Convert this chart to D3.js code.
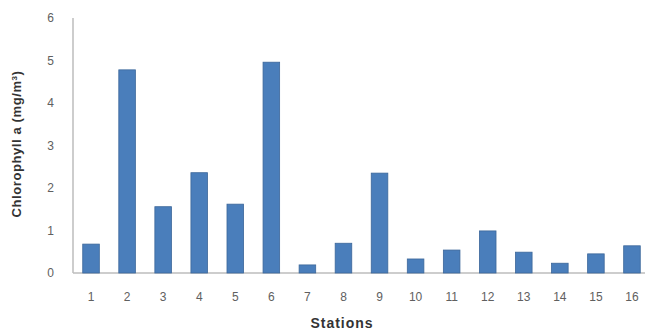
<!DOCTYPE html>
<html>
<head>
<meta charset="utf-8">
<script src="https://cdn.jsdelivr.net/npm/d3@7"></script>
<style>
  html, body { margin: 0; padding: 0; background: #fff; }
  svg { display: block; }
</style>
</head>
<body>
<svg id="chart" width="645" height="331"></svg>
<script>
const stations = ["1","2","3","4","5","6","7","8","9","10","11","12","13","14","15","16"];
const chlorophyll = [0.68, 4.78, 1.56, 2.36, 1.62, 4.96, 0.19, 0.70, 2.35, 0.33, 0.54, 0.99, 0.49, 0.23, 0.45, 0.64];
const yTicks = [0, 1, 2, 3, 4, 5, 6];
const xTitle = "Stations";

const svg = d3.select("#chart");
const mLeft = 73, mRight = 650, mTop = 18, mBottom = 273;

const x = d3.scaleBand().domain(stations).range([mLeft, mRight]).paddingInner(0.54).paddingOuter(0.27);
const y = d3.scaleLinear().domain([0, 6]).range([mBottom, mTop]);

// axes lines
svg.append("line").attr("x1", mLeft).attr("x2", mLeft).attr("y1", mTop).attr("y2", mBottom)
  .attr("stroke", "#bdbdbd").attr("stroke-width", 1.5);
svg.append("line").attr("x1", mLeft).attr("x2", 645).attr("y1", mBottom).attr("y2", mBottom)
  .attr("stroke", "#bdbdbd").attr("stroke-width", 1.5);

// bars
svg.append("g").selectAll("rect").data(chlorophyll).join("rect")
  .attr("x", (d, i) => x(stations[i]))
  .attr("width", x.bandwidth())
  .attr("y", d => y(d))
  .attr("height", d => y(0) - y(d))
  .attr("fill", "#4a7ebb")
  .attr("stroke", "#3c679a")
  .attr("stroke-width", 0.8);

const fam = "Liberation Sans, Arial, sans-serif";

// y tick labels
const yAxis = d3.axisLeft(y).tickValues(yTicks).tickSize(0).tickPadding(19).tickFormat(d3.format("d"));
const gy = svg.append("g").attr("transform", `translate(${mLeft},0)`).call(yAxis);
gy.select(".domain").remove();
gy.selectAll("text").attr("font-family", fam).attr("font-size", 12).attr("fill", "#606060");

// x tick labels
const xAxis = d3.axisBottom(x).tickSize(0).tickPadding(19);
const gx = svg.append("g").attr("transform", `translate(0,${mBottom})`).call(xAxis);
gx.select(".domain").remove();
gx.selectAll("text").attr("font-family", fam).attr("font-size", 12).attr("fill", "#606060");

// axis titles
svg.append("text").attr("x", 342).attr("y", 328).attr("text-anchor", "middle")
  .attr("font-family", fam).attr("font-size", 14).attr("letter-spacing", 1)
  .attr("font-weight", "bold").attr("fill", "#333").text(xTitle);

const yt = svg.append("text").attr("transform", "translate(21,144) rotate(-90)")
  .attr("text-anchor", "middle")
  .attr("font-family", fam).attr("font-size", 13).attr("letter-spacing", 0.6)
  .attr("font-weight", "bold").attr("fill", "#333");
yt.append("tspan").text("Chlorophyll a (mg/m");
yt.append("tspan").attr("baseline-shift", "super").attr("font-size", 8).text("3");
yt.append("tspan").text(")");
</script>
</body>
</html>
